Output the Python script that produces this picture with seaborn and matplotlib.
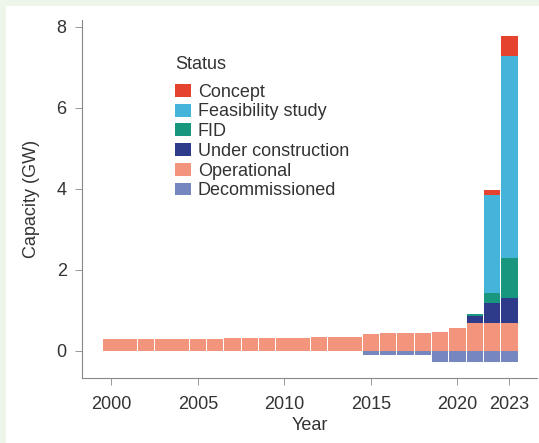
import numpy as np
import pandas as pd
import matplotlib
matplotlib.use("Agg")
import matplotlib.pyplot as plt
import seaborn as sns
from matplotlib.patches import Patch, Rectangle

years = list(range(2000, 2024))
operational = [0.30, 0.30, 0.30, 0.30, 0.30, 0.30, 0.30, 0.31, 0.31, 0.32,
               0.33, 0.33, 0.34, 0.34, 0.35, 0.42, 0.43, 0.44, 0.45, 0.47,
               0.56, 0.69, 0.69, 0.69]
under_construction = [0]*21 + [0.16, 0.50, 0.61]
fid = [0]*21 + [0.06, 0.23, 0.99]
feasibility = [0]*22 + [2.42, 4.98]
concept = [0]*22 + [0.13, 0.51]
decommissioned = [0]*15 + [-0.10, -0.10, -0.10, -0.10] + [-0.27]*5

statuses = ["Concept", "Feasibility study", "FID", "Under construction",
            "Operational", "Decommissioned"]
colors = {"Concept": "#e6432f", "Feasibility study": "#45b4db",
          "FID": "#18977e", "Under construction": "#2e3a8a",
          "Operational": "#f2957c", "Decommissioned": "#7686bf"}

df = pd.DataFrame({"Year": years, "Operational": operational,
                   "Under construction": under_construction, "FID": fid,
                   "Feasibility study": feasibility, "Concept": concept,
                   "Decommissioned": decommissioned})

sns.set_style("ticks")
plt.rcParams["font.family"] = ["Liberation Sans", "DejaVu Sans"]
FS = 13

fig = plt.figure(figsize=(5.39, 4.43), dpi=100)
fig.patch.set_facecolor("#eef6ea")
fig.patches.append(Rectangle((6/539, 0), 1, 1 - 6/443, transform=fig.transFigure,
                             facecolor="white", edgecolor="none", zorder=-10))
ax = fig.add_axes([82/539, (443-378)/443, 455/539, 358/443])
ax.set_facecolor("white")

stack_order = ["Operational", "Under construction", "FID", "Feasibility study", "Concept"]
cum = np.zeros(len(years))
cums = {}
for s in stack_order:
    cum = cum + df[s].values
    cums[s] = cum.copy()
for s in reversed(stack_order):
    sns.barplot(x=df["Year"], y=cums[s], color=colors[s], native_scale=True,
                width=0.95, ax=ax, saturation=1, edgecolor="none", linewidth=0)
sns.barplot(x=df["Year"], y=df["Decommissioned"], color=colors["Decommissioned"],
            native_scale=True, width=0.95, ax=ax, saturation=1, edgecolor="none", linewidth=0)

ax.set_xlim(1998.3, 2024.6)
ax.set_ylim(-0.67, 8.17)
ax.set_xticks([2000, 2005, 2010, 2015, 2020, 2023])
ax.set_xticklabels(["2000", "2005", "2010", "2015", "2020", "2023"])
ax.set_yticks([0, 2, 4, 6, 8])
ax.set_yticklabels(["0", "2", "4", "6", "8"])
ax.set_xlabel("Year", fontsize=FS, color="#333333", labelpad=3)
ax.set_ylabel("Capacity (GW)", fontsize=FS, color="#333333", labelpad=12)
ax.tick_params(axis="both", labelsize=FS, colors="#333333", length=5, width=0.6,
               color="#888888", pad=6)
ax.tick_params(axis="x", pad=8)
for side in ["top", "right"]:
    ax.spines[side].set_visible(False)
for side in ["left", "bottom"]:
    ax.spines[side].set_color("#888888")
    ax.spines[side].set_linewidth(0.8)

handles = [Patch(facecolor=colors[s], edgecolor="none", label=s) for s in statuses]
ax.text(0.204, 0.876, "Status", transform=ax.transAxes, fontsize=FS,
        color="#333333", va="center", ha="left")
leg = ax.legend(handles=handles, loc="upper left", bbox_to_anchor=(0.204, 0.822),
                frameon=False, fontsize=FS, handlelength=0.88, handleheight=0.72,
                handletextpad=0.4, labelspacing=0.15, borderpad=0, borderaxespad=0)
for t in leg.get_texts():
    t.set_color("#333333")

fig.savefig("out.png", dpi=100)
